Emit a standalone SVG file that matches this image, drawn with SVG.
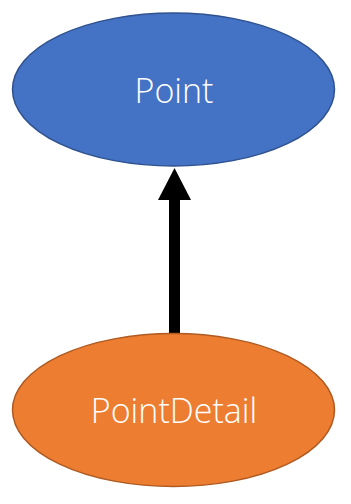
<svg xmlns="http://www.w3.org/2000/svg" width="351" height="504" viewBox="0 0 351 504">
<style>
.lbl{font-family:"Open Sans","Noto Sans",sans-serif;font-size:34px;font-weight:350;fill:#fff;text-anchor:middle}
</style>
<rect width="351" height="504" fill="#fff"/>
<g id="connectors">
<line x1="174.5" y1="334" x2="174.5" y2="198" stroke="#000" stroke-width="11"/>
<polygon points="174.5,168 158,200 191,200" fill="#000"/>
</g>
<g id="Point">
<ellipse cx="173.5" cy="89.5" rx="161" ry="76.5" fill="#4472C4" stroke="#2F528F" stroke-width="1.5"/>
<text class="lbl" x="174" y="103">Point</text>
</g>
<g id="PointDetail">
<ellipse cx="173.5" cy="410" rx="161" ry="76.5" fill="#ED7D31" stroke="#AE5A21" stroke-width="1.5"/>
<text class="lbl" x="174" y="423">PointDetail</text>
</g>
</svg>
